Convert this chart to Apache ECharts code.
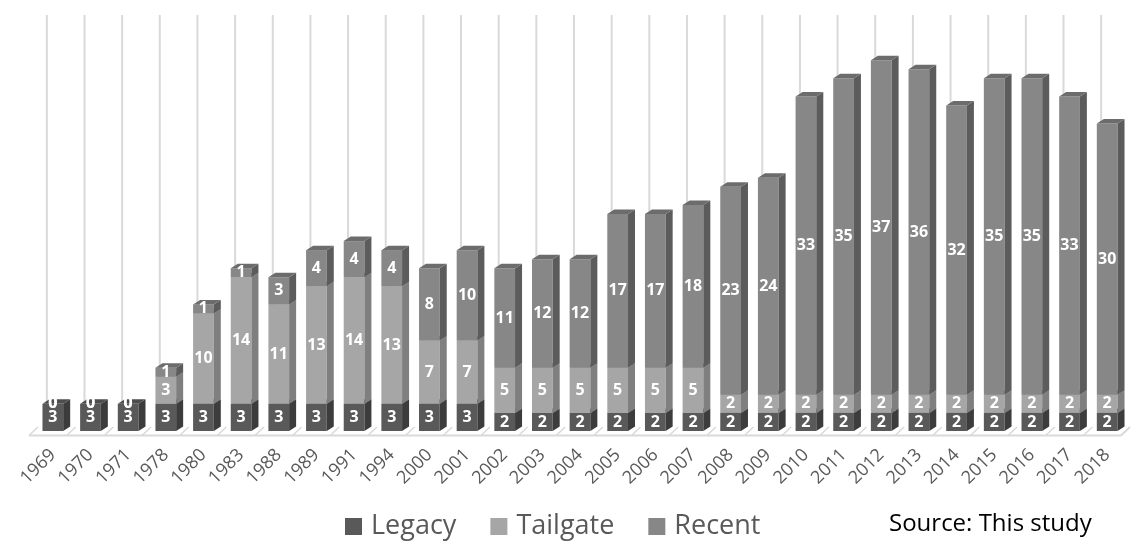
<!DOCTYPE html>
<html>
<head>
<meta charset="utf-8">
<script src="https://cdn.jsdelivr.net/npm/echarts@6/dist/echarts.min.js"></script>
<style>
  html, body { margin: 0; padding: 0; background: #fff; }
  #chart { width: 1137px; height: 543px; }
</style>
</head>
<body>
<div id="chart"></div>
<script>
const years = ['1969', '1970', '1971', '1978', '1980', '1983', '1988', '1989', '1991', '1994',
    '2000', '2001', '2002', '2003', '2004', '2005', '2006', '2007', '2008', '2009',
    '2010', '2011', '2012', '2013', '2014', '2015', '2016', '2017', '2018']
const legacy = [3, 3, 3, 3, 3, 3, 3, 3, 3, 3, 3, 3, 2, 2, 2, 2, 2, 2, 2, 2, 2, 2, 2, 2, 2, 2, 2, 2, 2]
const tailgate = [0, 0, 0, 3, 10, 14, 11, 13, 14, 13, 7, 7, 5, 5, 5, 5, 5, 5, 2, 2, 2, 2, 2, 2, 2, 2, 2, 2, 2]
const recent = [0, 0, 0, 1, 1, 1, 3, 4, 4, 4, 8, 10, 11, 12, 12, 17, 17, 18, 23, 24, 33, 35, 37, 36, 32, 35, 35, 33, 30]

const stacks = [legacy, tailgate, recent]
const names = ['Legacy', 'Tailgate', 'Recent']
// front / side / top shades for each segment
const shades = [
    { front: '#595959', side: '#3c3c3c', top: '#4d4d4d' },
    { front: '#a6a6a6', side: '#7f7f7f', top: '#959595' },
    { front: '#878787', side: '#5c5c5c', top: '#6c6c6c' }
]
const DX = 7
const DY = 4.5

function renderSegment(k) {
    return function (params, api) {
        const i = params.dataIndex
        let base = 0
        for (let j = 0; j < k; j++) base += stacks[j][i]
        const val = stacks[k][i]
        const p0 = api.coord([i, base])
        const p1 = api.coord([i, base + val])
        const bw = api.size([1, 0])[0] * 0.55
        const x = p0[0] - bw / 2
        const y0 = p0[1]
        const y1 = p1[1]
        const c = shades[k]
        const children = []
        if (val > 0) {
            children.push({
                type: 'rect',
                shape: { x: x, y: y1, width: bw, height: y0 - y1 },
                style: { fill: c.front }
            })
            children.push({
                type: 'polygon',
                shape: { points: [[x + bw, y1], [x + bw + DX, y1 - DY], [x + bw + DX, y0 - DY], [x + bw, y0]] },
                style: { fill: c.side }
            })
            children.push({
                type: 'polygon',
                shape: { points: [[x, y1], [x + DX, y1 - DY], [x + bw + DX, y1 - DY], [x + bw, y1]] },
                style: { fill: c.top }
            })
        }
        children.push({
            type: 'text',
            style: {
                text: String(val),
                x: p0[0],
                y: (y0 + y1) / 2,
                align: 'center',
                verticalAlign: 'middle',
                fill: '#ffffff',
                font: 'bold 16px "Open Sans"'
            }
        })
        return { type: 'group', children: children }
    }
}

function renderBackdrop(params, api) {
    const i = params.dataIndex
    const pb = api.coord([i, 0])
    const pt = api.coord([i, 46])
    const cw = api.size([1, 0])[0]
    const bl = pb[0] - cw / 2
    const br = pb[0] + cw / 2
    const fy = pb[1] + 4.5
    const by = pb[1] - 4
    const ln = { stroke: '#d9d9d9', lineWidth: 2 }
    const children = [
        { type: 'line', shape: { x1: pb[0] - 6, y1: pt[1], x2: pb[0] - 6, y2: by }, style: ln },
        { type: 'line', shape: { x1: bl - 5, y1: fy, x2: br - 5, y2: fy }, style: ln },
        { type: 'line', shape: { x1: bl - 5, y1: fy, x2: bl + 4, y2: by }, style: { stroke: '#d9d9d9', lineWidth: 1.5 } }
    ]
    if (i === years.length - 1) {
        children.push({ type: 'line', shape: { x1: br - 5, y1: fy, x2: br + 4, y2: by }, style: ln })
    }
    return { type: 'group', children: children }
}

const chart = echarts.init(document.getElementById('chart'))
const series = [{
    type: 'custom',
    name: 'backdrop',
    renderItem: renderBackdrop,
    data: years.map(function (y, i) { return [i, 0] }),
    encode: { x: 0, y: 1 },
    silent: true,
    z: 1
}]
for (let k = 0; k < 3; k++) {
    series.push({
        type: 'custom',
        name: names[k],
        renderItem: renderSegment(k),
        data: stacks[k].map(function (v, i) { return [i, v] }),
        encode: { x: 0, y: 1 },
        itemStyle: { color: shades[k].front },
        z: 2 + k
    })
}

chart.setOption({
    animation: false,
    grid: { left: 34, right: 11, top: 15, bottom: 112 },
    legend: {
        data: names,
        left: 340,
        top: 508,
        icon: 'rect',
        itemWidth: 17,
        itemHeight: 17,
        itemGap: 34,
        textStyle: { fontSize: 27, color: '#595959', fontFamily: 'Open Sans', padding: [0, 0, 0, 4] }
    },
    xAxis: {
        type: 'category',
        data: years,
        axisLine: { show: false },
        axisTick: { show: false },
        axisLabel: {
            rotate: 45,
            interval: 0,
            margin: 21,
            fontSize: 18,
            color: '#595959',
            fontFamily: 'Open Sans'
        }
    },
    yAxis: {
        type: 'value',
        min: 0,
        max: 46,
        show: false
    },
    graphic: [{
        type: 'text',
        left: 889,
        top: 512,
        style: { text: 'Source: This study', fontSize: 24, fill: '#000', fontFamily: 'Open Sans' }
    }],
    series: series
})
</script>
</body>
</html>
